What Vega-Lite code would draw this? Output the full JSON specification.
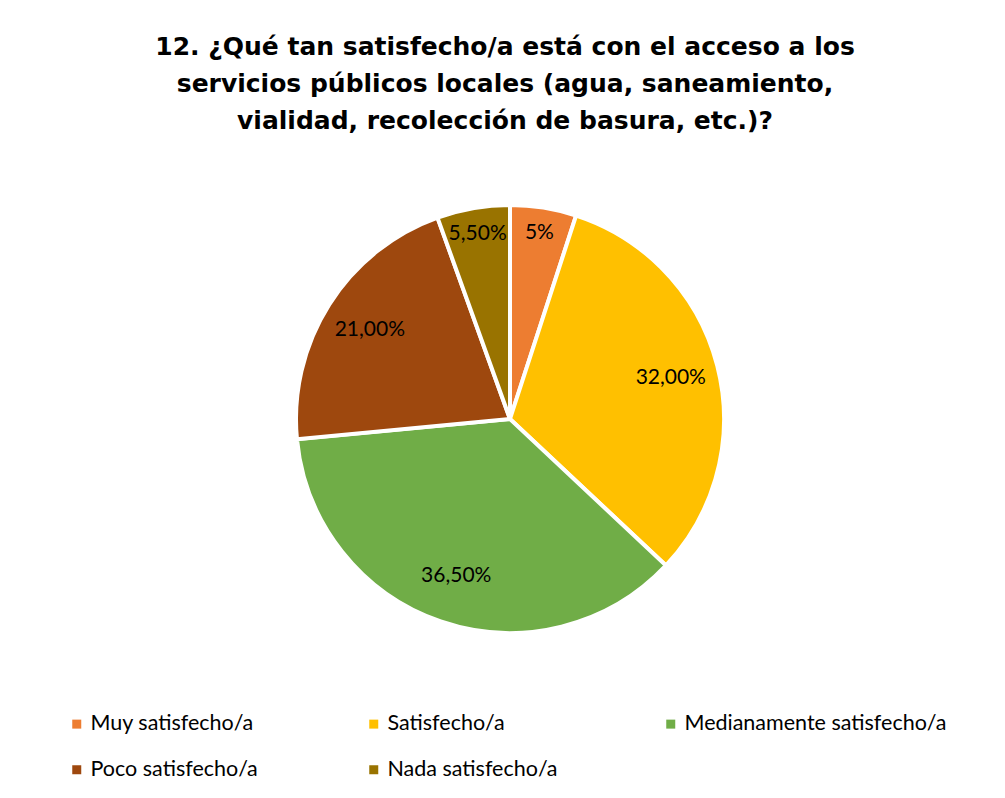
{
  "$schema": "https://vega.github.io/schema/vega-lite/v6.json",
  "autosize": "none",
  "width": 990,
  "height": 428,
  "padding": {"left": 15, "top": 205, "right": 0, "bottom": 165},
  "background": "white",
  "title": {
    "text": ["12. ¿Qué tan satisfecho/a está con el acceso a los", "servicios públicos locales (agua, saneamiento,", "vialidad, recolección de basura, etc.)?"],
    "font": "DejaVu Sans",
    "fontSize": 25,
    "fontWeight": "bold",
    "lineHeight": 37,
    "offset": 63,
    "anchor": "middle",
    "dx": -5,
    "color": "#000000"
  },
  "data": {
    "values": [
      {"categoria": "Muy satisfecho/a", "valor": 5, "etiqueta": "5%", "orden": 1},
      {"categoria": "Satisfecho/a", "valor": 32, "etiqueta": "32,00%", "orden": 2},
      {"categoria": "Medianamente satisfecho/a", "valor": 36.5, "etiqueta": "36,50%", "orden": 3},
      {"categoria": "Poco satisfecho/a", "valor": 21, "etiqueta": "21,00%", "orden": 4},
      {"categoria": "Nada satisfecho/a", "valor": 5.5, "etiqueta": "5,50%", "orden": 5}
    ]
  },
  "encoding": {
    "theta": {"field": "valor", "type": "quantitative", "stack": true},
    "order": {"field": "orden", "type": "quantitative"},
    "color": {
      "field": "categoria",
      "type": "nominal",
      "scale": {
        "domain": ["Muy satisfecho/a", "Satisfecho/a", "Medianamente satisfecho/a", "Poco satisfecho/a", "Nada satisfecho/a"],
        "range": ["#ED7D31", "#FFC000", "#70AD47", "#9E480E", "#997300"]
      },
      "legend": {
        "title": null,
        "orient": "none",
        "legendX": 51,
        "legendY": 508,
        "direction": "horizontal",
        "columns": 3,
        "columnPadding": 10,
        "rowPadding": 23,
        "padding": 0,
        "symbolType": "square",
        "symbolSize": 81,
        "symbolStrokeWidth": 0,
        "labelFont": "Lato",
        "labelFontSize": 21.5,
        "labelColor": "#000000",
        "labelOffset": 3,
        "labelLimit": 400,
        "gridAlign": "all"
      }
    }
  },
  "layer": [
    {"mark": {"type": "arc", "outerRadius": 214, "stroke": "white", "strokeWidth": 4}},
    {
      "mark": {"type": "text", "radius": {"expr": "datum.valor < 10 ? 188 : 166"}, "font": "Lato", "fontSize": 21, "color": "#000000"},
      "encoding": {"text": {"field": "etiqueta", "type": "nominal"}, "color": {"value": "#000000"}}
    }
  ]
}
